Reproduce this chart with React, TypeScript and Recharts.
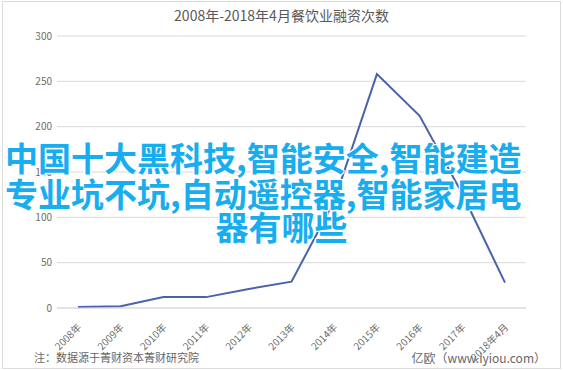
import { LineChart, Line, XAxis, YAxis, CartesianGrid } from "recharts";

const years = ["2008年", "2009年", "2010年", "2011年", "2012年", "2013年", "2014年", "2015年", "2016年", "2017年", "2018年4月"];
const counts = [1, 2, 12, 12, 21, 29, 118, 258, 212, 126, 28];
const yTicks = [0, 50, 100, 150, 200, 250, 300];

const title = "2008年-2018年4月餐饮业融资次数";
const note = "注：数据源于菁财资本菁财研究院";
const source = "亿欧（www.iyiou.com）";
const overlayLines = ["中国十大黑科技,智能安全,智能建造", "专业坑不坑,自动遥控器,智能家居电", "器有哪些"];

const data = years.map((year, i) => ({ year, value: counts[i] }));

const font = "'Noto Sans CJK SC', 'Noto Sans', sans-serif";

function YearTick(props: any) {
  const { x, y, payload } = props;
  const ax = x + 4;
  const ay = y + 12;
  return (
    <text
      x={ax}
      y={ay}
      transform={`rotate(-45, ${ax}, ${ay})`}
      textAnchor="end"
      fontSize={10}
      fill="#6b6b6b"
      fontFamily={font}
    >
      {payload.value}
    </text>
  );
}

const outline =
  "1px 1px 0 #fff, -1px -1px 0 #fff, 1px -1px 0 #fff, -1px 1px 0 #fff, 0 1px 0 #fff, 0 -1px 0 #fff, 1px 0 0 #fff, -1px 0 0 #fff";

export default function App() {
  return (
    <div
      style={{
        position: "absolute",
        left: 0,
        top: 0,
        width: 563,
        height: 370,
        background: "#fff",
        fontFamily: font,
        overflow: "hidden",
      }}
    >
      <div
        style={{
          position: "absolute",
          left: 2,
          top: 1,
          width: 557,
          height: 366,
          border: "1px solid #dcdcdc",
        }}
      />
      <div
        style={{
          position: "absolute",
          top: 5,
          left: 0,
          width: 563,
          textAlign: "center",
          fontSize: 14,
          color: "#595959",
        }}
      >
        {title}
      </div>
      <LineChart
        width={563}
        height={370}
        data={data}
        margin={{ top: 36, right: 37, bottom: 12, left: 0 }}
        style={{ position: "absolute", left: 0, top: 0 }}
      >
        <CartesianGrid vertical={false} stroke="#d9d9d9" />
        <XAxis
          dataKey="year"
          height={50}
          padding={{ left: 21, right: 21 }}
          tick={<YearTick />}
          tickLine={false}
          axisLine={{ stroke: "#d9d9d9" }}
          interval={0}
        />
        <YAxis
          width={57}
          domain={[0, 300]}
          ticks={yTicks}
          tickLine={false}
          axisLine={false}
          tickSize={3}
          tickMargin={2}
          tick={{ fontSize: 10, fill: "#6b6b6b", fontFamily: font }}
        />
        <Line
          type="linear"
          dataKey="value"
          stroke="#4a62ab"
          strokeWidth={2}
          dot={false}
          isAnimationActive={false}
        />
      </LineChart>
      <div
        style={{
          position: "absolute",
          left: 34,
          top: 349,
          fontSize: 11,
          color: "#666",
        }}
      >
        {note}
      </div>
      <div
        style={{
          position: "absolute",
          right: 17,
          top: 349,
          fontSize: 12,
          color: "#666",
        }}
      >
        {source}
      </div>
      <div
        style={{
          position: "absolute",
          left: 0,
          top: 139,
          width: 563,
          fontSize: 33,
          fontWeight: 700,
          lineHeight: "36px",
          color: "#17adef",
          textShadow: outline,
          pointerEvents: "none",
        }}
      >
        <div style={{ whiteSpace: "nowrap", paddingLeft: 5 }}>{overlayLines[0]}</div>
        <div style={{ whiteSpace: "nowrap", paddingLeft: 5 }}>{overlayLines[1]}</div>
        <div style={{ whiteSpace: "nowrap", textAlign: "center", marginTop: -3 }}>{overlayLines[2]}</div>
      </div>
    </div>
  );
}
